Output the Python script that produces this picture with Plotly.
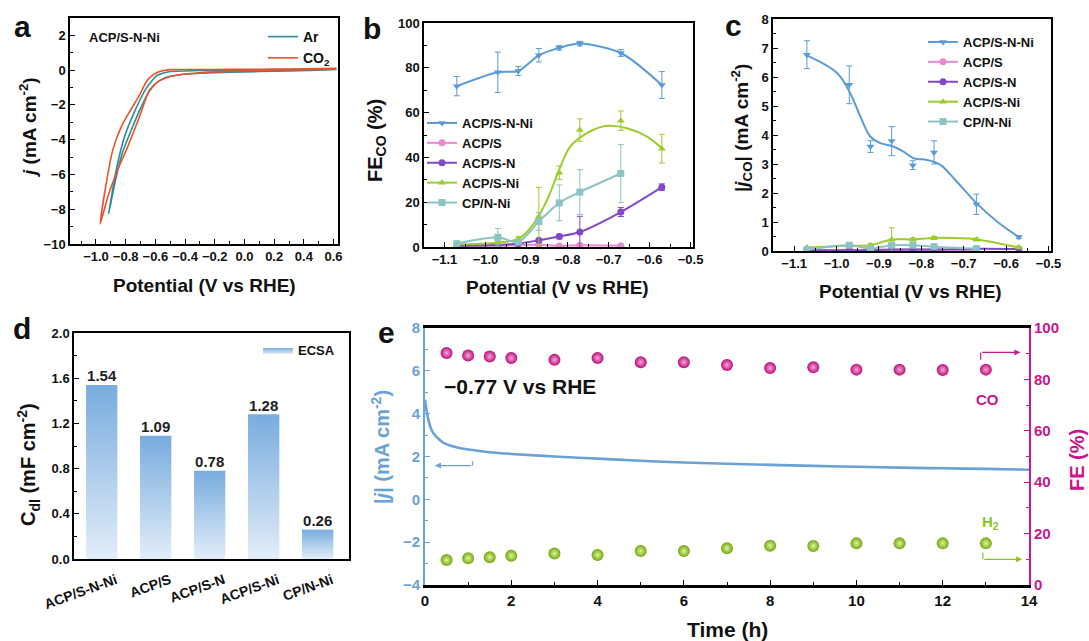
import plotly.graph_objects as go

FONT = "Liberation Sans, Arial, sans-serif"
W, H = 1089, 641

# ---------------- panel a : CV loops (V vs RHE, mA cm-2)
co2_v = [0.62, 0.4, 0.2, 0.0, -0.2, -0.4, -0.5, -0.55, -0.584, -0.62, -0.66, -0.707, -0.774, -0.83, -0.887, -0.931, -0.972,
         -0.92, -0.864, -0.786, -0.707, -0.64, -0.584, -0.505, -0.4, -0.303, -0.2, 0.0, 0.2, 0.4, 0.62]
co2_j = [0.1, 0.08, 0.06, 0.05, 0.04, 0.04, 0.03, -0.03, -0.12, -0.3, -0.65, -1.44, -2.4, -3.26, -4.6, -6.51, -8.85,
         -7.28, -5.94, -4.4, -2.68, -1.15, -0.67, -0.38, -0.22, -0.15, -0.1, -0.05, 0.0, 0.03, 0.05]
ar_v = [0.62, 0.3, 0.0, -0.3, -0.5, -0.55, -0.595, -0.662, -0.741, -0.808, -0.864, -0.914,
        -0.87, -0.82, -0.76, -0.70, -0.64, -0.58, -0.52, -0.45, -0.3, -0.1, 0.1, 0.3, 0.62]
ar_j = [0.05, 0.03, 0.0, -0.02, -0.08, -0.18, -0.34, -1.05, -2.4, -3.83, -5.75, -8.24,
        -6.4, -4.7, -3.4, -2.2, -1.2, -0.65, -0.4, -0.28, -0.18, -0.12, -0.08, -0.04, 0.02]

# ---------------- panels b, c
pot = [-1.07, -0.97, -0.92, -0.87, -0.82, -0.77, -0.67, -0.57]
samples = ["ACP/S-N-Ni", "ACP/S", "ACP/S-N", "ACP/S-Ni", "CP/N-Ni"]
colors = ["#5b9bd5", "#e88ad0", "#8148c8", "#9ccc2c", "#8cc4c4"]
symbols = ["triangle-down", "circle", "circle", "triangle-up", "square"]

fe = {
    "ACP/S-N-Ni": [71.8, 78.0, 78.6, 85.6, 88.9, 90.8, 86.6, 72.3],
    "ACP/S": [0.5, 0.5, 0.8, 1.0, 0.5, 0.8, 0.6, None],
    "ACP/S-N": [0.5, 1.0, 1.5, 3.0, 4.7, 6.7, 15.6, 26.7],
    "ACP/S-Ni": [1.2, 1.9, 3.6, 13.6, 33.2, 52.2, 56.4, 43.9],
    "CP/N-Ni": [1.5, 4.3, 2.2, 11.4, 19.7, 24.5, 32.8, None],
}
fe_err = {
    "ACP/S-N-Ni": [4.3, 9.0, 2.0, 3.0, 1.0, 1.0, 1.5, 6.0],
    "ACP/S": [0.3, 0.3, 0.3, 0.3, 0.3, 0.3, 0.3, None],
    "ACP/S-N": [0.3, 0.3, 0.3, 0.5, 1.0, 7.0, 2.0, 1.5],
    "ACP/S-Ni": [0.5, 0.5, 1.0, 13.0, 3.0, 5.0, 4.3, 6.4],
    "CP/N-Ni": [1.0, 4.0, 1.0, 4.0, 8.0, 10.0, 13.0, None],
}
fe_fit_v = [-1.07, -0.97, -0.92, -0.895, -0.871, -0.846, -0.822, -0.793, -0.753, -0.72, -0.696, -0.655, -0.606, -0.57]
fe_fit_sni = [1.2, 1.9, 3.6, 7.5, 13.6, 22.6, 33.7, 44.9, 50.8, 53.5, 54.1, 53.0, 49.3, 44.1]

jco = {
    "ACP/S-N-Ni": [6.77, 5.73, 3.6, 3.79, 2.96, 3.4, 1.61, 0.48],
    "ACP/S": [0.03, 0.04, 0.03, 0.04, 0.05, 0.04, 0.03, None],
    "ACP/S-N": [0.02, 0.03, 0.03, 0.05, 0.05, 0.05, 0.08, 0.07],
    "ACP/S-Ni": [0.12, 0.18, 0.2, 0.4, 0.4, 0.45, 0.4, 0.12],
    "CP/N-Ni": [0.05, 0.2, 0.08, 0.2, 0.2, 0.15, 0.08, None],
}
jco_err = {
    "ACP/S-N-Ni": [0.48, 0.65, 0.2, 0.5, 0.15, 0.4, 0.35, 0.05],
    "ACP/S": [0.01] * 7 + [None],
    "ACP/S-N": [0.01] * 8,
    "ACP/S-Ni": [0.03, 0.05, 0.05, 0.4, 0.05, 0.05, 0.05, 0.03],
    "CP/N-Ni": [0.02, 0.08, 0.02, 0.05, 0.05, 0.05, 0.03, None],
}
jco_fit_v = [-1.074, -0.999, -0.968, -0.944, -0.92, -0.897, -0.869, -0.842, -0.818, -0.786, -0.755, -0.72, -0.695, -0.67, -0.62, -0.57]
jco_fit_snni = [6.77, 6.14, 5.45, 4.64, 3.94, 3.72, 3.62, 3.43, 3.2, 3.14, 2.97, 2.45, 2.05, 1.65, 1.0, 0.48]

# ---------------- panel d
cdl = [1.54, 1.09, 0.78, 1.28, 0.26]

# ---------------- panel e
time_j = [0, 0.04, 0.08, 0.13, 0.19, 0.3, 0.42, 0.6, 0.8, 1.1, 1.5, 2, 3, 4, 5, 6, 7, 8, 9, 10, 11, 12, 13, 14]
j_abs = [4.65, 4.1, 3.7, 3.35, 3.1, 2.85, 2.65, 2.5, 2.4, 2.3, 2.2, 2.12, 2.0, 1.9, 1.8, 1.72, 1.66, 1.61, 1.56,
         1.52, 1.48, 1.45, 1.42, 1.38]
time_fe = [0.5, 1, 1.5, 2, 3, 4, 5, 6, 7, 8, 9, 10, 11, 12, 13]
fe_co = [90.3, 89.3, 88.9, 88.3, 87.6, 88.3, 86.7, 86.7, 85.6, 84.4, 84.7, 83.8, 83.8, 83.7, 83.8]
fe_h2 = [9.7, 10.4, 10.8, 11.4, 12.3, 11.7, 13.2, 13.2, 14.3, 15.3, 15.2, 16.2, 16.2, 16.2, 16.2]

BLUE_E = "#6aa2d6"
MAG = "#c8168c"
GRN = "#8cc420"


def px_x(x0, x1):
    return [x0 / W, x1 / W]


def px_y(top, bottom):
    return [1 - bottom / H, 1 - top / H]


fig = go.Figure()

# panel a
fig.add_trace(go.Scatter(x=ar_v, y=ar_j, mode="lines", name="Ar", line=dict(color="#2e8b9a", width=1.6, shape="spline", smoothing=0.6),
                         xaxis="x", yaxis="y", legend="legend3"))
fig.add_trace(go.Scatter(x=co2_v, y=co2_j, mode="lines", name="CO<sub>2</sub>", line=dict(color="#e8532a", width=1.6, shape="spline", smoothing=0.6),
                         xaxis="x", yaxis="y", legend="legend3"))

# panels b and c
for k, (s, c, sym) in enumerate(zip(samples, colors, symbols)):
    for vals, errs, ax, leg in [(fe, fe_err, "2", "legend"), (jco, jco_err, "3", "legend2")]:
        fitted = (ax == "2" and s == "ACP/S-Ni") or (ax == "3" and s == "ACP/S-N-Ni")
        fig.add_trace(go.Scatter(
            x=pot, y=vals[s], mode="markers" if fitted else "lines+markers",
            line=dict(color=c, width=2, shape="spline", smoothing=0.8),
            marker=dict(symbol=sym, size=7, color=c),
            error_y=dict(type="data", array=errs[s], color=c, thickness=1, width=3),
            name=s, showlegend=not fitted, legendrank=k + 1, connectgaps=False,
            xaxis="x" + ax, yaxis="y" + ax, legend=leg))
        if fitted:
            fx, fy = (fe_fit_v, fe_fit_sni) if ax == "2" else (jco_fit_v, jco_fit_snni)
            fig.add_trace(go.Scatter(x=fx, y=fy, mode="lines", line=dict(color=c, width=2, shape="spline", smoothing=1),
                                     showlegend=False, xaxis="x" + ax, yaxis="y" + ax))
            fig.add_trace(go.Scatter(x=[None], y=[None], mode="lines+markers", line=dict(color=c, width=2),
                                     marker=dict(symbol=sym, size=7, color=c), name=s, legendrank=k + 1,
                                     xaxis="x" + ax, yaxis="y" + ax, legend=leg))

# panel d : gradient bars
bw = 0.58
for i, v in enumerate(cdl):
    fig.add_trace(go.Scatter(
        x=[i - bw / 2, i + bw / 2, i + bw / 2, i - bw / 2, i - bw / 2], y=[0, 0, v, v, 0],
        mode="lines", fill="toself", line=dict(width=0, color="rgba(0,0,0,0)"),
        fillgradient=dict(type="vertical", colorscale=[[0, "#e2edf9"], [1, "#78acde"]], start=0, stop=v),
        name="ECSA", showlegend=(i == 0), legend="legend4", hoverinfo="skip",
        xaxis="x4", yaxis="y4"))
fig.add_trace(go.Scatter(x=list(range(len(cdl))), y=cdl, mode="text", text=[f"{v:.2f}" for v in cdl],
                         textposition="top center", textfont=dict(family=FONT, size=15, color="#222", weight="bold"),
                         showlegend=False, xaxis="x4", yaxis="y4"))

# panel e
fig.add_trace(go.Scatter(x=time_j, y=j_abs, mode="lines", line=dict(color=BLUE_E, width=2.6, shape="spline"),
                         showlegend=False, xaxis="x5", yaxis="y5"))
fig.add_trace(go.Scatter(x=time_fe, y=fe_co, mode="markers", showlegend=False, xaxis="x5", yaxis="y6",
                         marker=dict(size=12, color="#b80f78", gradient=dict(type="radial", color="#f7a6dc"))))
fig.add_trace(go.Scatter(x=time_fe, y=fe_h2, mode="markers", showlegend=False, xaxis="x5", yaxis="y6",
                         marker=dict(size=12, color="#72a810", gradient=dict(type="radial", color="#dcf59a"))))

tickf = dict(family=FONT, size=13, color="#111", weight="bold")
box = dict(showline=True, linecolor="black", linewidth=1.5, mirror=True, ticks="inside", ticklen=5,
           tickcolor="black", showgrid=False, zeroline=False, tickfont=tickf, automargin=False)

lay = dict(
    width=W, height=H, margin=dict(l=0, r=0, t=0, b=0), paper_bgcolor="white", plot_bgcolor="white",
    font=dict(family=FONT), template="none",
    xaxis=dict(box, domain=px_x(70, 338), range=[-1.175, 0.63], dtick=0.2, tick0=0, tickformat=".1f",
               minor=dict(dtick=0.1, ticks="inside", ticklen=3, tickcolor="black"), anchor="y"),
    yaxis=dict(box, domain=px_y(18, 244), range=[-10, 3], dtick=2, tick0=0,
               minor=dict(dtick=1, ticks="inside", ticklen=3, tickcolor="black"), anchor="x"),
    xaxis2=dict(box, domain=px_x(424, 693), range=[-1.15, -0.494], dtick=0.1, tick0=0, tickformat=".1f",
                minor=dict(dtick=0.05, ticks="inside", ticklen=3, tickcolor="black"), anchor="y2"),
    yaxis2=dict(box, domain=px_y(23, 247), range=[0, 100], dtick=20,
                minor=dict(dtick=10, ticks="inside", ticklen=3, tickcolor="black"), anchor="x2"),
    xaxis3=dict(box, domain=px_x(773, 1051), range=[-1.15, -0.494], dtick=0.1, tick0=0, tickformat=".1f",
                minor=dict(dtick=0.05, ticks="inside", ticklen=3, tickcolor="black"), anchor="y3"),
    yaxis3=dict(box, domain=px_y(19, 251), range=[0, 8], dtick=1,
                minor=dict(dtick=0.5, ticks="inside", ticklen=3, tickcolor="black"), anchor="x3"),
    xaxis4=dict(box, domain=px_x(74, 349), range=[-0.513, 4.58], tickvals=list(range(len(samples))),
                ticktext=samples, tickangle=-20, ticks="", anchor="y4", ticklabelstandoff=6, ticklabelshift=14,
                tickfont=dict(family=FONT, size=14, color="#111", weight="bold")),
    yaxis4=dict(box, domain=px_y(333, 559), range=[0, 2.0], dtick=0.4, tickformat=".1f",
                minor=dict(dtick=0.2, ticks="inside", ticklen=3, tickcolor="black"), anchor="x4"),
    xaxis5=dict(box, domain=px_x(425, 1029), range=[0, 14], dtick=2, linewidth=2.5,
                minor=dict(dtick=1, ticks="inside", ticklen=3, tickcolor="black"), anchor="y5",
                tickfont=dict(family=FONT, size=15, color="#111", weight="bold")),
    yaxis5=dict(domain=px_y(328, 585), range=[-4, 8], dtick=2, showline=True, linecolor=BLUE_E, linewidth=2,
                ticks="inside", ticklen=5, tickcolor=BLUE_E, showgrid=False, zeroline=False, anchor="x5",
                minor=dict(dtick=1, ticks="inside", ticklen=3, tickcolor=BLUE_E), automargin=False,
                tickfont=dict(family=FONT, size=15, color=BLUE_E, weight="bold")),
    yaxis6=dict(overlaying="y5", side="right", anchor="x5", range=[0, 100], dtick=20, showline=True,
                linecolor=MAG, linewidth=2, ticks="inside", ticklen=5, tickcolor=MAG, showgrid=False,
                zeroline=False, minor=dict(dtick=10, ticks="inside", ticklen=3, tickcolor=MAG), automargin=False,
                tickfont=dict(family=FONT, size=15, color=MAG, weight="bold")),
)
legf = dict(family=FONT, size=13, color="#111", weight="bold")
lay["legend"] = dict(x=422 / W, y=1 - 108 / H, xanchor="left", yanchor="top", bgcolor="rgba(0,0,0,0)",
                     font=legf, tracegroupgap=0, itemwidth=30)
lay["legend2"] = dict(x=923 / W, y=1 - 27 / H, xanchor="left", yanchor="top", bgcolor="rgba(0,0,0,0)",
                      font=legf, tracegroupgap=0, itemwidth=30)
lay["legend3"] = dict(x=263 / W, y=1 - 21 / H, xanchor="left", yanchor="top", bgcolor="rgba(0,0,0,0)",
                      font=dict(family=FONT, size=14, color="#111", weight="bold"), itemwidth=30)
lay["legend4"] = dict(x=258 / W, y=1 - 335 / H, xanchor="left", yanchor="top", bgcolor="rgba(0,0,0,0)",
                      font=legf, itemwidth=30)
fig.update_layout(**lay)


def note(text, x, y, size=19, color="#111", angle=0, xanchor="center", ref=("paper", "paper")):
    fig.add_annotation(text=text, x=x, y=y, xref=ref[0], yref=ref[1], showarrow=False, textangle=angle,
                       xanchor=xanchor, yanchor="middle", font=dict(family=FONT, size=size, color=color, weight="bold"))


# panel letters
for t, x, y in [("a", 22, 27), ("b", 372, 28), ("c", 733, 26), ("d", 22, 328), ("e", 386, 332)]:
    note(t, x / W, 1 - y / H, size=30)

# axis titles
note("Potential (V vs RHE)", 204 / W, 1 - 285 / H)
note("<i>j</i> (mA cm<sup>-2</sup>)", 28 / W, 1 - 128 / H, angle=-90)
note("Potential (V vs RHE)", 557 / W, 1 - 287 / H)
note("FE<sub>CO</sub> (%)", 376 / W, 1 - 140 / H, angle=-90, size=20)
note("Potential (V vs RHE)", 910 / W, 1 - 291 / H)
note("|<i>j</i><sub>CO</sub>| (mA cm<sup>-2</sup>)", 741 / W, 1 - 128 / H, angle=-90)
note("C<sub>dl</sub> (mF cm<sup>-2</sup>)", 28 / W, 1 - 465 / H, angle=-90, size=20)
note("Time (h)", 728 / W, 1 - 629 / H, size=21)
note("|<i>j</i>| (mA cm<sup>-2</sup>)", 381 / W, 1 - 447 / H, angle=-90, color=BLUE_E, size=20)
note("FE (%)", 1077 / W, 1 - 460 / H, angle=-90, color=MAG, size=20)
note("ACP/S-N-Ni", 124 / W, 1 - 37 / H, size=13)

# panel e labels and arrows
note("\u22120.77 V vs RHE", 0.39, 5.27, size=21, xanchor="left", ref=("x5", "y5"))
note("CO", 13.04, 72.3, size=15, color=MAG, ref=("x5", "y6"))
note("H<sub>2</sub>", 13.1, 24.2, size=15, color=GRN, ref=("x5", "y6"))

arr = [("y5", BLUE_E, 1.1, 1.78, 1.575, 0.23), ("y6", MAG, 12.88, 87.6, 90.5, 13.8), ("y6", GRN, 12.93, 12.6, 10.0, 13.84)]
for yr, c, xs, ystart, ylev, xend in arr:
    fig.add_shape(type="line", xref="x5", yref=yr, x0=xs, x1=xs, y0=ystart, y1=ylev, line=dict(color=c, width=1.2))
    fig.add_annotation(x=xend, y=ylev, ax=xs, ay=ylev, xref="x5", yref=yr, axref="x5", ayref=yr, text="",
                       showarrow=True, arrowhead=2, arrowsize=1, arrowwidth=1.2, arrowcolor=c)

# the page body has a default 8px margin; drop it so the figure sits at the window origin
fig.write_html("out.html", config={"displayModeBar": False},
               post_script="document.body.style.margin='0';document.body.style.overflow='hidden';")
